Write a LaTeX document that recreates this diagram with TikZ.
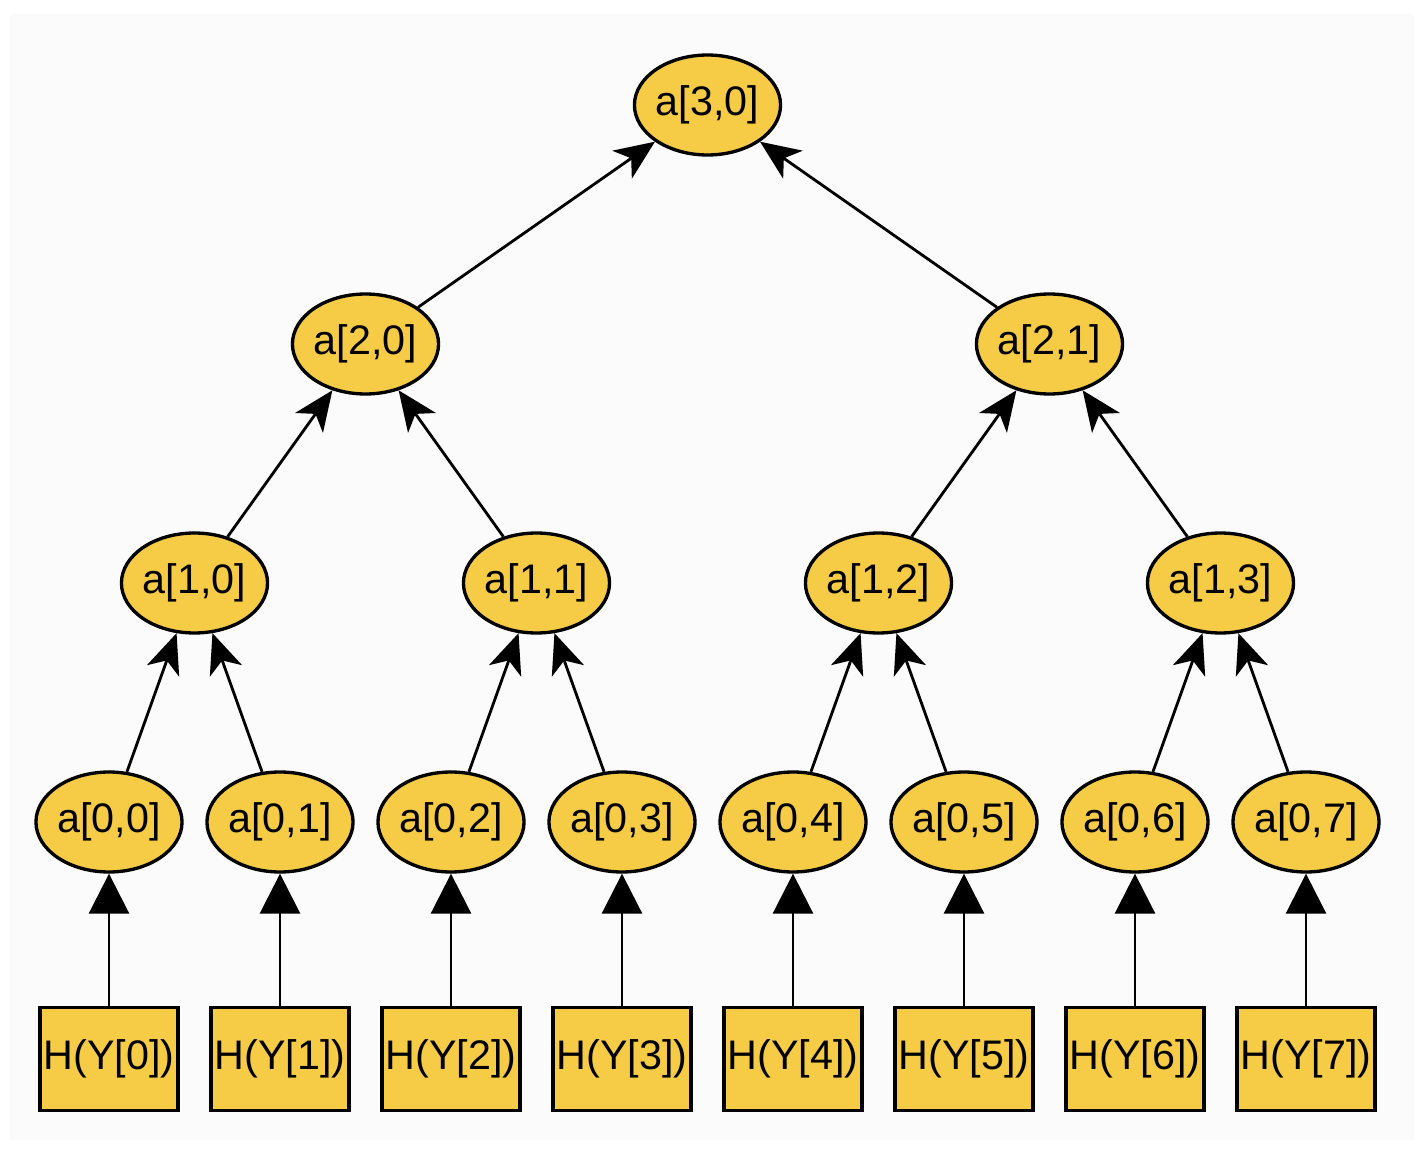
\documentclass[tikz,border=0pt]{standalone}
\usepackage{fontspec}
\setmainfont{Liberation Sans}
\usetikzlibrary{shapes.geometric, arrows.meta}
\definecolor{nodeyellow}{RGB}{246,204,70}
\definecolor{paper}{RGB}{251,251,251}

\begin{document}
\begin{tikzpicture}[x=0.02cm, y=-0.02cm,
  sumnode/.style={ellipse, draw=black, line width=1.9pt, fill=nodeyellow,
    minimum width=2.78cm, minimum height=2cm, inner sep=0pt,
    font=\fontsize{23.5}{28}\selectfont},
  hashbox/.style={rectangle, draw=black, line width=1.9pt, fill=nodeyellow,
    minimum width=2.76cm, minimum height=2.06cm, inner sep=0pt,
    font=\fontsize{23.5}{28}\selectfont},
  uparrow/.style={line width=1.6pt, -{Stealth[length=0.8cm, width=0.68cm, inset=0.22cm]}},
  leafarrow/.style={line width=1.6pt, -{Triangle[length=0.8cm, width=0.8cm]}}]
\useasboundingbox (0,0) rectangle (1424,1152);
\fill[paper] (10,14) rectangle (1414,1140);

% hashed inputs
\node[hashbox] (h0) at (109,1059) {H(Y[0])};
\node[hashbox] (h1) at (280,1059) {H(Y[1])};
\node[hashbox] (h2) at (451,1059) {H(Y[2])};
\node[hashbox] (h3) at (622,1059) {H(Y[3])};
\node[hashbox] (h4) at (793,1059) {H(Y[4])};
\node[hashbox] (h5) at (964,1059) {H(Y[5])};
\node[hashbox] (h6) at (1135,1059) {H(Y[6])};
\node[hashbox] (h7) at (1306,1059) {H(Y[7])};

% level 0
\node[sumnode] (a00) at (109,822) {a[0,0]};
\node[sumnode] (a01) at (280,822) {a[0,1]};
\node[sumnode] (a02) at (451,822) {a[0,2]};
\node[sumnode] (a03) at (622,822) {a[0,3]};
\node[sumnode] (a04) at (793,822) {a[0,4]};
\node[sumnode] (a05) at (964,822) {a[0,5]};
\node[sumnode] (a06) at (1135,822) {a[0,6]};
\node[sumnode] (a07) at (1306,822) {a[0,7]};

% level 1
\node[sumnode] (a10) at (194.5,583) {a[1,0]};
\node[sumnode] (a11) at (536.5,583) {a[1,1]};
\node[sumnode] (a12) at (878.5,583) {a[1,2]};
\node[sumnode] (a13) at (1220.5,583) {a[1,3]};

% level 2
\node[sumnode] (a20) at (365.5,344) {a[2,0]};
\node[sumnode] (a21) at (1049.5,344) {a[2,1]};

% root
\node[sumnode] (a30) at (707.5,105) {a[3,0]};

\draw[leafarrow] (h0) -- (a00);
\draw[leafarrow] (h1) -- (a01);
\draw[leafarrow] (h2) -- (a02);
\draw[leafarrow] (h3) -- (a03);
\draw[leafarrow] (h4) -- (a04);
\draw[leafarrow] (h5) -- (a05);
\draw[leafarrow] (h6) -- (a06);
\draw[leafarrow] (h7) -- (a07);

\draw[uparrow] (a00) -- (a10);
\draw[uparrow] (a01) -- (a10);
\draw[uparrow] (a02) -- (a11);
\draw[uparrow] (a03) -- (a11);
\draw[uparrow] (a04) -- (a12);
\draw[uparrow] (a05) -- (a12);
\draw[uparrow] (a06) -- (a13);
\draw[uparrow] (a07) -- (a13);

\draw[uparrow] (a10) -- (a20);
\draw[uparrow] (a11) -- (a20);
\draw[uparrow] (a12) -- (a21);
\draw[uparrow] (a13) -- (a21);

\draw[uparrow] (a20) -- (a30);
\draw[uparrow] (a21) -- (a30);

\end{tikzpicture}
\end{document}
